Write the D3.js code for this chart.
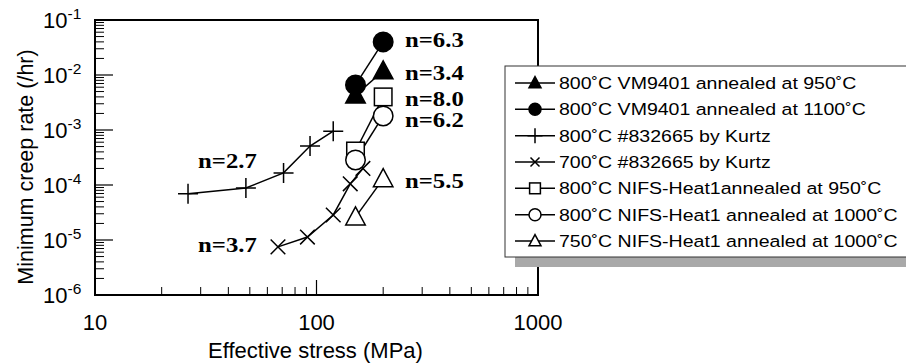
<!DOCTYPE html>
<html>
<head>
<meta charset="utf-8">
<script src="https://cdn.jsdelivr.net/npm/d3@7"></script>
<style>
  body { margin: 0; background: #fff; }
  svg { display: block; font-family: "Liberation Sans", Arial, sans-serif; }
</style>
</head>
<body>
<div id="container"></div>
<script>
// stress (MPa) and minimum creep rate (/hr)
const vmStress = [150, 200]
const vm950Rate = [0.0043, 0.0118]
const vm1100Rate = [0.0066, 0.040]
const kurtz800Stress = [26.3, 48, 71, 93.5, 119]
const kurtz800Rate = [6.9e-5, 8.8e-5, 1.66e-4, 5.1e-4, 9.5e-4]
const kurtz700Stress = [67, 91, 119, 142, 162]
const kurtz700Rate = [7.5e-6, 1.13e-5, 2.85e-5, 1.05e-4, 2.0e-4]
const nifsStress = [150, 200]
const nifs950Rate = [4.15e-4, 4.0e-3]
const nifs1000Rate = [2.85e-4, 1.8e-3]
const nifs750Rate = [2.6e-5, 1.29e-4]

const legendLabels = [
  "800˚C VM9401 annealed at 950˚C",
  "800˚C VM9401 annealed at 1100˚C",
  "800˚C #832665 by Kurtz",
  "700˚C #832665 by Kurtz",
  "800˚C NIFS-Heat1annealed at 950˚C",
  "800˚C NIFS-Heat1 annealed at 1000˚C",
  "750˚C NIFS-Heat1 annealed at 1000˚C"
]

// stress exponent labels, anchored in data coordinates
const nLabels = ["n=6.3", "n=3.4", "n=8.0", "n=6.2", "n=5.5", "n=2.7", "n=3.7"]
const nStress = [251, 251, 251, 251, 251, 29.2, 29.2]
const nRate = [0.0323, 0.0081, 0.00273, 0.00113, 8.8e-5, 2.04e-4, 6.05e-6]

const xTicks = [10, 100, 1000]
const yExponents = [-1, -2, -3, -4, -5, -6]

const series = [
  {stress: vmStress, rate: vm950Rate, marker: "triFilled"},
  {stress: vmStress, rate: vm1100Rate, marker: "circleFilled"},
  {stress: kurtz800Stress, rate: kurtz800Rate, marker: "plus"},
  {stress: kurtz700Stress, rate: kurtz700Rate, marker: "cross"},
  {stress: nifsStress, rate: nifs950Rate, marker: "square"},
  {stress: nifsStress, rate: nifs1000Rate, marker: "circle"},
  {stress: nifsStress, rate: nifs750Rate, marker: "tri"}
]

const width = 906
const height = 364
const pLeft = 95, pRight = 538, pTop = 20, pBottom = 295

const x = d3.scaleLog().domain([10, 1000]).range([pLeft, pRight])
const y = d3.scaleLog().domain([1e-6, 1e-1]).range([pBottom, pTop])

const svg = d3.create("svg")
  .attr("width", width)
  .attr("height", height)

// minor + major ticks, pointing inward
const yMinor = []
for (let e = -6; e < -1; e++) {
  for (let k = 2; k <= 9; k++) yMinor.push(k * Math.pow(10, e))
}
svg.append("g").selectAll("line")
  .data(yMinor)
  .join("line")
  .attr("x1", pLeft).attr("x2", pLeft + 9)
  .attr("y1", d => y(d)).attr("y2", d => y(d))
  .attr("stroke", "#000").attr("stroke-width", 1)

svg.append("g").selectAll("line")
  .data(yExponents.slice(1, -1))
  .join("line")
  .attr("x1", pLeft).attr("x2", pLeft + 18)
  .attr("y1", d => y(Math.pow(10, d))).attr("y2", d => y(Math.pow(10, d)))
  .attr("stroke", "#000").attr("stroke-width", 1.2)

const xMinor = []
for (let e = 1; e < 3; e++) {
  for (let k = 2; k <= 9; k++) xMinor.push(k * Math.pow(10, e))
}
svg.append("g").selectAll("line")
  .data(xMinor)
  .join("line")
  .attr("x1", d => x(d)).attr("x2", d => x(d))
  .attr("y1", pBottom).attr("y2", pBottom - 8)
  .attr("stroke", "#000").attr("stroke-width", 1)

svg.append("line")
  .attr("x1", x(100)).attr("x2", x(100))
  .attr("y1", pBottom).attr("y2", pBottom - 15)
  .attr("stroke", "#000").attr("stroke-width", 1.2)

// frame
svg.append("rect")
  .attr("x", pLeft).attr("y", pTop)
  .attr("width", pRight - pLeft).attr("height", pBottom - pTop)
  .attr("fill", "none").attr("stroke", "#000").attr("stroke-width", 2)

// tick labels
svg.append("g").selectAll("text")
  .data(xTicks)
  .join("text")
  .attr("x", d => x(d))
  .attr("y", 330)
  .attr("text-anchor", "middle")
  .attr("font-size", 22)
  .text(d => d)

const yLab = svg.append("g").selectAll("text")
  .data(yExponents)
  .join("text")
  .attr("x", 43)
  .attr("y", d => y(Math.pow(10, d)) + 8)
  .attr("font-size", 22)
yLab.append("tspan").text("10")
yLab.append("tspan")
  .attr("dy", -9)
  .attr("font-size", 15.5)
  .text(d => "-" + Math.abs(d))

// axis titles
svg.append("text")
  .attr("x", (pLeft + pRight) / 2 - 1)
  .attr("y", 358)
  .attr("text-anchor", "middle")
  .attr("font-size", 22)
  .text("Effective stress (MPa)")

svg.append("text")
  .attr("transform", "translate(33,167) rotate(-90)")
  .attr("text-anchor", "middle")
  .attr("font-size", 21.5)
  .text("Minimum creep rate (/hr)")

// marker drawing
function drawMarker(g, type, s) {
  const h = s / 2
  if (type === "triFilled" || type === "tri") {
    g.append("path")
      .attr("d", `M0,${-h * 1.05}L${h},${h * 0.8}L${-h},${h * 0.8}Z`)
      .attr("fill", type === "tri" ? "#fff" : "#000")
      .attr("stroke", "#000").attr("stroke-width", 1.5)
  } else if (type === "circleFilled" || type === "circle") {
    g.append("circle")
      .attr("r", h)
      .attr("fill", type === "circle" ? "#fff" : "#000")
      .attr("stroke", "#000").attr("stroke-width", 1.5)
  } else if (type === "square") {
    g.append("rect")
      .attr("x", -h * 0.9).attr("y", -h * 0.9)
      .attr("width", h * 1.8).attr("height", h * 1.8)
      .attr("fill", "#fff")
      .attr("stroke", "#000").attr("stroke-width", 1.5)
  } else if (type === "plus") {
    g.append("path")
      .attr("d", `M${-h},0L${h},0M0,${-h}L0,${h}`)
      .attr("stroke", "#000").attr("stroke-width", 1.5)
  } else if (type === "cross") {
    const c = h * 0.75
    g.append("path")
      .attr("d", `M${-c},${-c}L${c},${c}M${-c},${c}L${c},${-c}`)
      .attr("stroke", "#000").attr("stroke-width", 1.5)
  }
}

const line = d3.line()
  .x(d => x(d[0]))
  .y(d => y(d[1]))

const plot = svg.append("g")
series.forEach(s => {
  const pts = s.stress.map((v, i) => [v, s.rate[i]])
  plot.append("path")
    .attr("d", line(pts))
    .attr("fill", "none")
    .attr("stroke", "#000")
    .attr("stroke-width", 1.5)
})
series.forEach(s => {
  s.stress.forEach((v, i) => {
    const g = plot.append("g")
      .attr("transform", `translate(${x(v)},${y(s.rate[i])})`)
    drawMarker(g, s.marker, s.marker === "plus" ? 20 : 19.5)
  })
})

// n labels (the reference type is set a little wide)
svg.append("g").selectAll("text")
  .data(nLabels)
  .join("text")
  .attr("transform", (d, i) => `translate(${x(nStress[i])},${y(nRate[i])}) scale(1.15,1)`)
  .attr("font-family", "'Liberation Serif', 'Times New Roman', serif")
  .attr("font-weight", "bold")
  .attr("font-size", 21.5)
  .text(d => d)

// legend
const lgX = 505, lgY = 66, lgW = 420, lgH = 191
svg.append("rect")
  .attr("x", lgX + 10).attr("y", lgY + 10)
  .attr("width", lgW).attr("height", lgH)
  .attr("fill", "#a9a9a9")
svg.append("rect")
  .attr("x", lgX).attr("y", lgY)
  .attr("width", lgW).attr("height", lgH)
  .attr("fill", "#fff").attr("stroke", "#333").attr("stroke-width", 1)

const rowY = d3.scaleLinear().domain([0, legendLabels.length - 1]).range([lgY + 17, lgY + 175])
legendLabels.forEach((label, i) => {
  const ry = rowY(i)
  svg.append("line")
    .attr("x1", 515).attr("x2", 555)
    .attr("y1", ry).attr("y2", ry)
    .attr("stroke", "#000").attr("stroke-width", 1.5)
  const g = svg.append("g").attr("transform", `translate(535,${ry})`)
  drawMarker(g, series[i].marker, series[i].marker === "plus" ? 15 : 12)
  svg.append("text")
    .attr("transform", `translate(559,${ry + 6}) scale(1.15,1)`)
    .attr("font-size", 17)
    .text(label)
})

document.querySelector("#container").appendChild(svg.node())
</script>
</body>
</html>
